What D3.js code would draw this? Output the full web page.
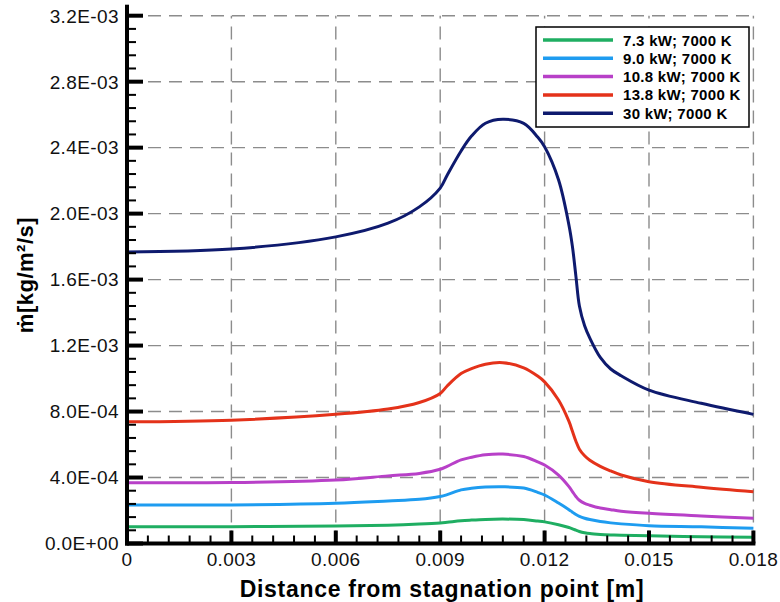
<!DOCTYPE html>
<html lang="en">
<head>
  <meta charset="UTF-8">
  <title>Mass flux vs distance</title>
  <script src="https://d3js.org/d3.v7.min.js"></script>
</head>
<style>
  body { margin: 0; background: #fff; }
  svg { display: block; font-family: "Liberation Sans", Arial, Helvetica, sans-serif; }
  .ticklabel { font-size: 19px; fill: #111; letter-spacing: 0.4px; }
  .grid line { stroke: #8c8c8c; stroke-width: 1.4; stroke-dasharray: 13, 8; }
</style>
<body>
  <svg class="chart" width="780" height="602"></svg>
  <script>
    // distance from stagnation point [m]
    const xVals = [0, 0.003, 0.006, 0.0075, 0.0084, 0.009, 0.0092, 0.0096, 0.0099, 0.0103, 0.0108, 0.0114,
      0.0118, 0.012, 0.0124, 0.0127, 0.0128, 0.0129, 0.013, 0.01315, 0.0133, 0.0136, 0.0139, 0.0142,
      0.015, 0.0165, 0.018];

    // mass flux, in units of 1E-03 kg/m2/s
    const flux73 = [0.101, 0.102, 0.106, 0.111, 0.118, 0.125, 0.129, 0.138, 0.142, 0.146, 0.148, 0.145,
      0.136, 0.131, 0.114, 0.097, 0.089, 0.081, 0.073, 0.065, 0.060, 0.055, 0.052, 0.050,
      0.047, 0.041, 0.038];
    const flux90 = [0.233, 0.234, 0.244, 0.258, 0.268, 0.285, 0.296, 0.325, 0.335, 0.342, 0.344, 0.336,
      0.310, 0.294, 0.245, 0.205, 0.190, 0.176, 0.165, 0.153, 0.145, 0.133, 0.125, 0.119,
      0.108, 0.101, 0.092];
    const flux108 = [0.369, 0.370, 0.385, 0.410, 0.425, 0.450, 0.468, 0.507, 0.523, 0.538, 0.542, 0.527,
      0.495, 0.476, 0.415, 0.345, 0.315, 0.285, 0.262, 0.243, 0.232, 0.215, 0.205, 0.196,
      0.183, 0.167, 0.153];
    const flux138 = [0.738, 0.748, 0.783, 0.815, 0.855, 0.910, 0.955, 1.030, 1.060, 1.087, 1.096, 1.065,
      1.015, 0.980, 0.870, 0.740, 0.680, 0.620, 0.572, 0.532, 0.505, 0.468, 0.440, 0.415,
      0.375, 0.341, 0.314];
    const flux30 = [1.768, 1.785, 1.859, 1.942, 2.041, 2.155, 2.233, 2.380, 2.470, 2.548, 2.572, 2.547,
      2.464, 2.405, 2.205, 1.930, 1.800, 1.620, 1.440, 1.320, 1.245, 1.128, 1.058, 1.017,
      0.930, 0.850, 0.783];

    const seriesNames = ['7.3 kW; 7000 K', '9.0 kW; 7000 K', '10.8 kW; 7000 K', '13.8 kW; 7000 K', '30 kW; 7000 K'];
    const seriesColors = ['#1fae62', '#1e9cf0', '#b840c8', '#e4321a', '#0e1a6e'];
    const seriesData = [flux73, flux90, flux108, flux138, flux30];

    const xTicks = [0, 0.003, 0.006, 0.009, 0.012, 0.015, 0.018];
    const xTickLabels = ['0', '0.003', '0.006', '0.009', '0.012', '0.015', '0.018'];
    const yTicks = [0, 4e-4, 8e-4, 1.2e-3, 1.6e-3, 2.0e-3, 2.4e-3, 2.8e-3, 3.2e-3];
    const yTickLabels = ['0.0E+00', '4.0E-04', '8.0E-04', '1.2E-03', '1.6E-03', '2.0E-03', '2.4E-03', '2.8E-03', '3.2E-03'];

    const svg = d3.select('svg.chart');
    const x = d3.scaleLinear().domain([0, 0.018]).range([127, 753.4]);
    const y = d3.scaleLinear().domain([0, 3.2e-3]).range([543.5, 15.7]);

    const xMinor = d3.range(0, 0.018 + 1e-9, 0.0006).filter((v, i) => i % 5 != 0);
    const yMinor = d3.range(0, 3.2e-3 + 1e-9, 0.8e-4).filter((v, i) => i % 5 != 0);

    // gridlines
    let grid = svg.append('g').attr('class', 'grid');
    grid.selectAll('line.grid-x').data(xTicks.slice(1)).join('line')
      .attr('class', 'grid-x')
      .attr('x1', d => x(d)).attr('x2', d => x(d))
      .attr('y1', y(0)).attr('y2', y(3.2e-3));
    grid.selectAll('line.grid-y').data(yTicks.slice(1)).join('line')
      .attr('class', 'grid-y')
      .attr('x1', x(0)).attr('x2', x(0.018))
      .attr('y1', d => y(d)).attr('y2', d => y(d));

    // curves
    const line = d3.line()
      .x((d, i) => x(xVals[i]))
      .y(d => y(d * 1e-3))
      .curve(d3.curveCatmullRom.alpha(0.5));

    seriesData.forEach((s, k) => {
      svg.append('path')
        .datum(s)
        .attr('d', line)
        .attr('fill', 'none')
        .attr('stroke', seriesColors[k])
        .attr('stroke-width', 3);
    });

    // ticks drawn as small rects
    svg.append('g').selectAll('rect').data(yMinor).join('rect')
      .attr('x', x(0)).attr('width', 9)
      .attr('y', d => y(d) - 1).attr('height', 2)
      .attr('fill', '#000');
    svg.append('g').selectAll('rect').data(yTicks).join('rect')
      .attr('x', x(0)).attr('width', 16)
      .attr('y', d => y(d) - 2).attr('height', 4)
      .attr('fill', '#000');
    svg.append('g').selectAll('rect').data(xMinor).join('rect')
      .attr('x', d => x(d) - 1).attr('width', 2)
      .attr('y', y(0) - 8).attr('height', 8)
      .attr('fill', '#000');
    svg.append('g').selectAll('rect').data(xTicks).join('rect')
      .attr('x', d => x(d) - 2).attr('width', 4)
      .attr('y', y(0) - 13).attr('height', 13)
      .attr('fill', '#000');

    // axis lines
    svg.append('rect')
      .attr('x', x(0) - 2).attr('width', 4)
      .attr('y', y(3.2e-3) - 11).attr('height', y(0) - y(3.2e-3) + 13)
      .attr('fill', '#000');
    svg.append('rect')
      .attr('x', x(0) - 2).attr('width', x(0.018) - x(0) + 4)
      .attr('y', y(0) - 2).attr('height', 4)
      .attr('fill', '#000');

    // tick labels
    svg.append('g').selectAll('text').data(yTicks).join('text')
      .attr('class', 'ticklabel')
      .attr('x', x(0) - 8)
      .attr('y', d => y(d))
      .attr('dy', '0.36em')
      .attr('text-anchor', 'end')
      .text((d, i) => yTickLabels[i]);
    svg.append('g').selectAll('text').data(xTicks).join('text')
      .attr('class', 'ticklabel')
      .attr('x', d => x(d))
      .attr('y', y(0) + 22)
      .attr('text-anchor', 'middle')
      .text((d, i) => xTickLabels[i]);

    // axis titles
    svg.append('text')
      .attr('x', 442).attr('y', 597)
      .attr('text-anchor', 'middle')
      .style('font-size', '23px').style('font-weight', 'bold').style('letter-spacing', '0.7px')
      .text('Distance from stagnation point [m]');
    svg.append('text')
      .attr('transform', 'translate(33,275) rotate(-90)')
      .attr('text-anchor', 'middle')
      .style('font-size', '22px').style('font-weight', 'bold').style('letter-spacing', '0.5px')
      .text('ṁ[kg/m²/s]');

    // legend
    let legend = svg.append('g').attr('transform', 'translate(536,27)');
    legend.append('rect')
      .attr('width', 213).attr('height', 100)
      .attr('fill', '#fff').attr('stroke', '#000').attr('stroke-width', 1.5);
    seriesNames.forEach((name, i) => {
      let row = legend.append('g').attr('transform', `translate(0,${13 + i * 18.3})`);
      row.append('line')
        .attr('x1', 7).attr('x2', 77)
        .attr('stroke', seriesColors[i]).attr('stroke-width', 3.5);
      row.append('text')
        .attr('x', 87).attr('y', 5.5)
        .style('font-size', '15px').style('font-weight', 'bold').style('letter-spacing', '0.3px')
        .text(name);
    });
  </script>
</body>
</html>
